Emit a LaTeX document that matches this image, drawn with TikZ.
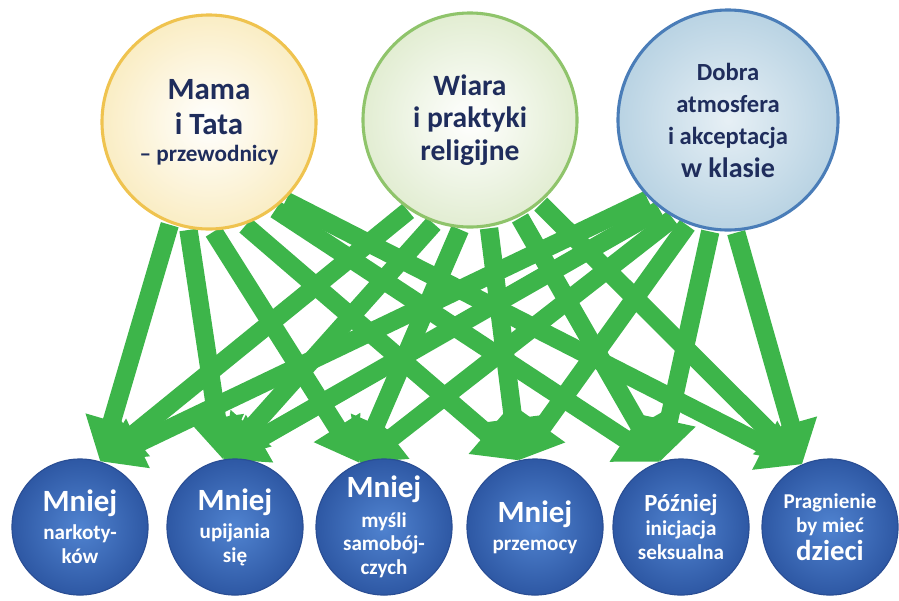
\documentclass[tikz,border=0pt]{standalone}
\usepackage{fontspec}
\setmainfont{Carlito}
\usepackage{xcolor}
\usepackage{tikz}
\usetikzlibrary{arrows.meta}
\definecolor{ArrowGreen}{HTML}{3DB54A}
\definecolor{NavyText}{HTML}{1F2D5C}
\definecolor{MamaRim}{HTML}{EFC34F}
\definecolor{MamaFill}{HTML}{FAEDC4}
\definecolor{WiaraRim}{HTML}{8FC46B}
\definecolor{WiaraFill}{HTML}{E2EDD2}
\definecolor{KlasaRim}{HTML}{4A7DB8}
\definecolor{KlasaFill}{HTML}{B9D3E3}
\definecolor{EffectIn}{HTML}{5083D0}
\definecolor{EffectOut}{HTML}{2E58A4}
\definecolor{EffectRim}{HTML}{2A4E94}
\pgfdeclarelayer{bg}
\pgfsetlayers{bg,main}
\newcommand{\szBig}{\fontsize{22}{25}\selectfont}
\newcommand{\szMid}{\fontsize{17.5}{22}\selectfont}
\newcommand{\szSmall}{\fontsize{15}{17}\selectfont}
\tikzset{
  cause/.style={circle,minimum size=5.35cm,inner sep=0pt,line width=2.2pt,text=NavyText,align=center,font=\bfseries\szBig},
  effect/.style={circle,minimum size=3.4cm,inner sep=0pt,draw=EffectRim,line width=.8pt,inner color=EffectIn,outer color=EffectOut,text=white,align=center,font=\bfseries\szSmall},
  link/.style={ArrowGreen,line width=.46cm,-{Triangle[width=1.3cm,length=1.05cm]},shorten <=1pt}
}

\begin{document}
\begin{tikzpicture}[x=.025cm,y=-.025cm]
\useasboundingbox (0,0) rectangle (899,600);
% czynniki
\node[cause,draw=MamaRim,inner color=white,outer color=MamaFill] (mama) at (209,122) {Mama\\ i Tata\\[-6pt] {\fontsize{16.5}{18}\selectfont -- przewodnicy}};
\node[cause,draw=WiaraRim,inner color=white,outer color=WiaraFill,font=\bfseries\fontsize{21}{23}\selectfont] (wiara) at (470,120) {Wiara\\ i praktyki\\ religijne};
\node[cause,minimum size=5.5cm,draw=KlasaRim,inner color=KlasaFill!35,outer color=KlasaFill,font=\bfseries\fontsize{17.5}{23}\selectfont] (klasa) at (728,120) {Dobra\\ atmosfera\\ i akceptacja\\ {\fontsize{20}{23}\selectfont w klasie}};
% skutki
\node[effect] (nark) at (80,527) {{\szBig Mniej}\\[3pt] narkoty-\\ ków};
\node[effect] (upij) at (235,527) {{\szBig Mniej}\\[3pt] upijania\\ się};
\node[effect] (mysl) at (384,527) {{\szBig Mniej}\\[4pt] myśli\\ samobój-\\ czych};
\node[effect] (przem) at (535,527) {{\szBig Mniej}\\[3pt] przemocy};
\node[effect] (inic) at (681,527) {{\szMid Później}\\ inicjacja\\ seksualna};
\node[effect] (dzieci) at (830,527) {Pragnienie\\ by mieć\\[3pt] {\fontsize{20.5}{23}\selectfont dzieci}};
\begin{pgfonlayer}{bg}
% Mama i Tata
\draw[link] (mama.249) -- (nark.73);
\draw[link] (mama.259) -- (upij.100);
\draw[link] (mama.272) -- (mysl.111);
\draw[link] (mama.289) -- (przem.104);
\draw[link] (mama.307) -- (inic.108);
\draw[link] (mama.314) -- (dzieci.114);
% Wiara
\draw[link] (wiara.236) -- (nark.73);
\draw[link] (wiara.251) -- (upij.100);
\draw[link] (wiara.265) -- (mysl.111);
\draw[link] (wiara.280) -- (przem.104);
\draw[link] (wiara.297) -- (inic.108);
\draw[link] (wiara.310) -- (dzieci.114);
% klasa
\draw[link] (klasa.225) -- (nark.73);
\draw[link] (klasa.233) -- (upij.100);
\draw[link] (klasa.241) -- (mysl.111);
\draw[link] (klasa.249) -- (przem.104);
\draw[link] (klasa.261) -- (inic.108);
\draw[link] (klasa.274) -- (dzieci.114);
\end{pgfonlayer}
\end{tikzpicture}
\end{document}
